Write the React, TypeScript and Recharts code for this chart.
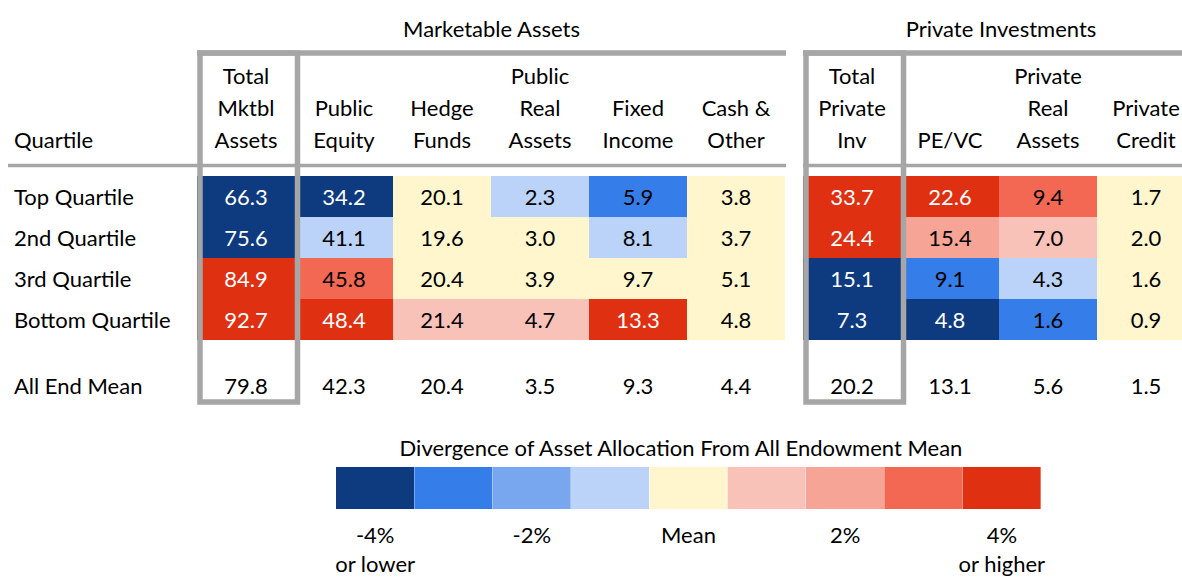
import React from 'react';
import { ScatterChart, Scatter, XAxis, YAxis, BarChart, Bar, Cell } from 'recharts';

const groupTitles = ['Marketable Assets', 'Private Investments'];
const columnHeaders = [
  ['Total', 'Mktbl', 'Assets'],
  ['', 'Public', 'Equity'],
  ['', 'Hedge', 'Funds'],
  ['Public', 'Real', 'Assets'],
  ['', 'Fixed', 'Income'],
  ['', 'Cash &', 'Other'],
  ['Total', 'Private', 'Inv'],
  ['', '', 'PE/VC'],
  ['Private', 'Real', 'Assets'],
  ['', 'Private', 'Credit'],
];
const quartiles = ['Top Quartile', '2nd Quartile', '3rd Quartile', 'Bottom Quartile'];
const meanLabel = 'All End Mean';

const topQuartile = [66.3, 34.2, 20.1, 2.3, 5.9, 3.8, 33.7, 22.6, 9.4, 1.7];
const secondQuartile = [75.6, 41.1, 19.6, 3.0, 8.1, 3.7, 24.4, 15.4, 7.0, 2.0];
const thirdQuartile = [84.9, 45.8, 20.4, 3.9, 9.7, 5.1, 15.1, 9.1, 4.3, 1.6];
const bottomQuartile = [92.7, 48.4, 21.4, 4.7, 13.3, 4.8, 7.3, 4.8, 1.6, 0.9];
const allEndMean = [79.8, 42.3, 20.4, 3.5, 9.3, 4.4, 20.2, 13.1, 5.6, 1.5];

// divergence bin of each cell: 0 = -4% or lower, 4 = mean, 8 = +4% or higher
const topBins = [0, 0, 4, 3, 1, 4, 8, 8, 7, 4];
const secondBins = [0, 3, 4, 4, 3, 4, 8, 6, 5, 4];
const thirdBins = [8, 7, 4, 4, 4, 4, 0, 1, 3, 4];
const bottomBins = [8, 8, 5, 5, 8, 4, 0, 0, 1, 4];

const legendTitle = 'Divergence of Asset Allocation From All Endowment Mean';
const legendColors = ['#0E3A80', '#357DE8', '#78A6EF', '#BBD3F8', '#FFF6CE', '#F8C2B9', '#F6A495', '#F26853', '#E03012'];
const legendLabels = [['-4%', 'or lower'], [], ['-2%'], [], ['Mean'], [], ['2%'], [], ['4%', 'or higher']];

// layout
const W = 1182;
const H = 577;
const FONT = 'Lato, "Open Sans", sans-serif';
const FS = 22;
const GRAY = '#A6A6A6';
const COL_W = 98;
const X0 = 197; // left edge of first data column
const GAP = 18 / COL_W; // gap between the two groups, in column units
const ROW_H = 41;
const Y0 = 176; // top of first data row
const X_DOMAIN = [-X0 / COL_W, (W - X0) / COL_W];
const Y_DOMAIN = [-Y0 / ROW_H, (H - Y0) / ROW_H];
const MEAN_ROW = 5.1;
const LABEL_X = (14 - X0) / COL_W;
const LEG_PAD = 50;

const px = (u: number) => (u - X_DOMAIN[0]) * COL_W;
const slotLeft = (c: number) => (c < 6 ? c : c + GAP);
const colCenter = (c: number) => slotLeft(c) + 0.5;

const rows = [topQuartile, secondQuartile, thirdQuartile, bottomQuartile];
const bins = [topBins, secondBins, thirdBins, bottomBins];

const cellData = rows.flatMap((vals, r) =>
  vals.map((v, c) => ({ x: colCenter(c), y: r + 0.5, value: v, bin: bins[r][c] }))
);
const meanData = allEndMean.map((v, c) => ({ x: colCenter(c), y: MEAN_ROW, value: v }));
const labelData = [...quartiles.map((q, r) => ({ x: LABEL_X, y: r + 0.5, name: q })), { x: LABEL_X, y: MEAN_ROW, name: meanLabel }];
const boxData = [0, 6].map(c => ({ x: colCenter(c), y: MEAN_ROW }));
const legendData = legendColors.map((c, i) => ({ key: i, v: 1 }));

const HeatCell = (props: any) => {
  const { cx, cy, payload } = props;
  const dark = payload.bin === 0 || payload.bin === 8;
  return (
    <g>
      <rect x={cx - COL_W / 2} y={cy - ROW_H / 2} width={COL_W} height={ROW_H} fill={legendColors[payload.bin]} />
      <text x={cx} y={cy} textAnchor="middle" dominantBaseline="central" fontSize={FS} fontFamily={FONT} fill={dark ? '#fff' : '#000'}>
        {payload.value.toFixed(1)}
      </text>
    </g>
  );
};

const MeanText = (props: any) => (
  <text x={props.cx} y={props.cy} textAnchor="middle" dominantBaseline="central" fontSize={FS} fontFamily={FONT} fill="#000">
    {props.payload.value.toFixed(1)}
  </text>
);

const RowLabel = (props: any) => (
  <text x={props.cx} y={props.cy} textAnchor="start" dominantBaseline="central" fontSize={FS} fontFamily={FONT} fill="#000">
    {props.payload.name}
  </text>
);

const TotalBox = (props: any) => {
  const left = props.cx - COL_W / 2 + 3;
  const right = props.cx + COL_W / 2 + 2.5;
  const top = 53;
  const bottom = 402;
  return <rect x={left} y={top} width={right - left} height={bottom - top} fill="none" stroke={GRAY} strokeWidth={5.5} />;
};

const LegendTick = (props: any) => {
  const { x, y, payload } = props;
  const lines = legendLabels[payload.value] || [];
  return (
    <g>
      {lines.map((l, i) => (
        <text key={i} x={x} y={y + 25 + i * 29} textAnchor="middle" dominantBaseline="central" fontSize={FS} fontFamily={FONT} fill="#000">
          {l}
        </text>
      ))}
    </g>
  );
};

export default function App() {
  const mktLeft = px(slotLeft(0));
  const mktRight = px(slotLeft(6) - GAP) + 1;
  const privLeft = px(slotLeft(6));
  const headerY = [75, 107, 139];
  return (
    <div style={{ position: 'absolute', left: 0, top: 0, width: W, height: H, background: '#fff' }}>
      <ScatterChart width={W} height={H} margin={{ top: 0, right: 0, bottom: 0, left: 0 }}>
        <XAxis type="number" dataKey="x" domain={X_DOMAIN} hide allowDataOverflow />
        <YAxis type="number" dataKey="y" domain={Y_DOMAIN} hide reversed allowDataOverflow />
        <Scatter data={cellData} shape={HeatCell} isAnimationActive={false} />
        <Scatter data={meanData} shape={MeanText} isAnimationActive={false} />
        <Scatter data={labelData} shape={RowLabel} isAnimationActive={false} />
        <Scatter data={boxData} shape={TotalBox} isAnimationActive={false} />
        <g>
          <text x={(mktLeft + mktRight) / 2} y={28} textAnchor="middle" dominantBaseline="central" fontSize={FS} fontFamily={FONT}>{groupTitles[0]}</text>
          <text x={px(colCenter(7) + 0.5) + 2} y={28} textAnchor="middle" dominantBaseline="central" fontSize={FS} fontFamily={FONT}>{groupTitles[1]}</text>
          <line x1={mktLeft} x2={mktRight} y1={53} y2={53} stroke={GRAY} strokeWidth={5.5} />
          <line x1={privLeft} x2={W} y1={53} y2={53} stroke={GRAY} strokeWidth={5.5} />
          <line x1={8} x2={mktRight} y1={165.5} y2={165.5} stroke={GRAY} strokeWidth={3.5} />
          <line x1={privLeft} x2={W} y1={165.5} y2={165.5} stroke={GRAY} strokeWidth={3.5} />
          <text x={14} y={headerY[2]} textAnchor="start" dominantBaseline="central" fontSize={FS} fontFamily={FONT}>Quartile</text>
          {columnHeaders.map((lines, c) =>
            lines.map((l, i) =>
              l ? (
                <text key={`${c}-${i}`} x={px(colCenter(c))} y={headerY[i]} textAnchor="middle" dominantBaseline="central" fontSize={FS} fontFamily={FONT}>
                  {l}
                </text>
              ) : null
            )
          )}
          <text x={681} y={447} textAnchor="middle" dominantBaseline="central" fontSize={FS} fontFamily={FONT}>{legendTitle}</text>
        </g>
      </ScatterChart>
      <div style={{ position: 'absolute', left: 336 - LEG_PAD, top: 467 }}>
        <BarChart width={705 + 2 * LEG_PAD} height={110} data={legendData} margin={{ top: 0, right: LEG_PAD, bottom: 0, left: LEG_PAD }} barCategoryGap={0}>
          <XAxis dataKey="key" height={68} axisLine={false} tickLine={false} tickSize={0} tickMargin={0} interval={0} tick={LegendTick} />
          <YAxis hide domain={[0, 1]} />
          <Bar dataKey="v" isAnimationActive={false}>
            {legendData.map((d, i) => (
              <Cell key={i} fill={legendColors[i]} />
            ))}
          </Bar>
        </BarChart>
      </div>
    </div>
  );
}
